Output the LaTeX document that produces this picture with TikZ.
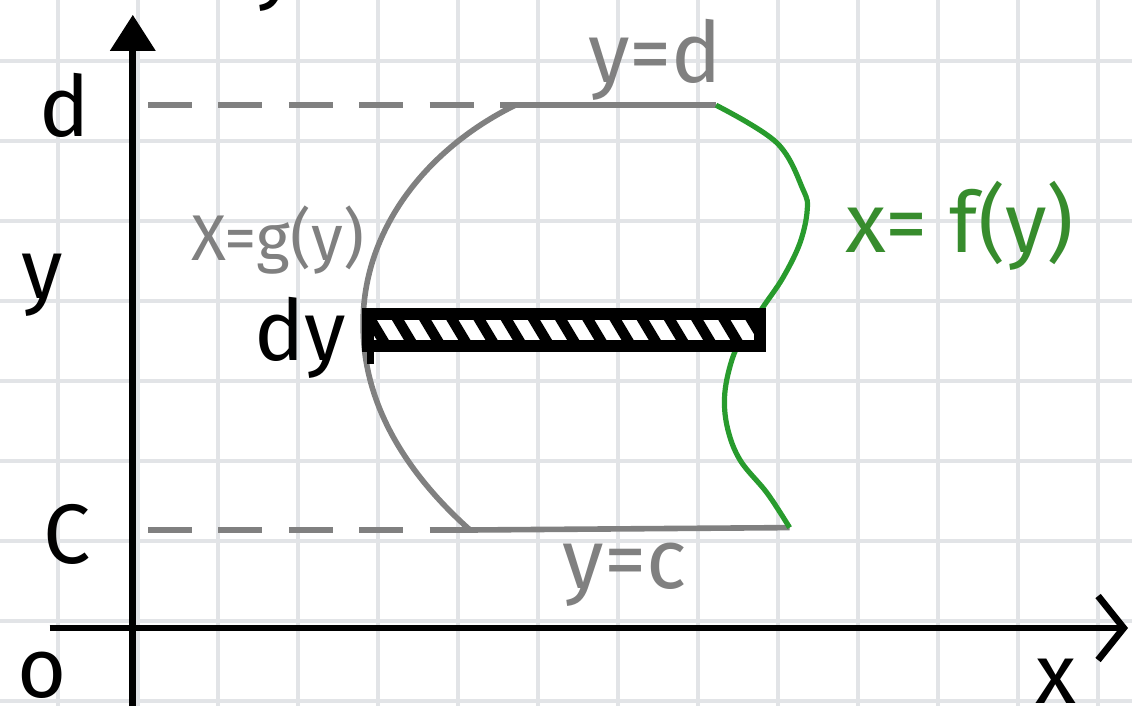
\documentclass[tikz,border=0pt]{standalone}
\usepackage{fontspec}
\setmainfont{Fira Sans}
\usetikzlibrary{arrows.meta,calc}
\definecolor{pencil}{RGB}{128,128,128}
\definecolor{marker}{RGB}{40,155,45}
\definecolor{markertext}{RGB}{55,140,45}
\definecolor{gridc}{RGB}{226,228,231}
\begin{document}
\begin{tikzpicture}[
  gridline/.style={gridc,line width=1.3pt},
  axis/.style={black,line width=0.085cm},
  bound/.style={pencil,line width=0.07cm},
  guide/.style={pencil,line width=0.07cm,dash pattern=on 0.55cm off 0.33cm},
  curve/.style={marker,line width=0.065cm},
  hatch/.style={black,line width=0.13cm},
  ink/.style={black,font=\fontsize{30}{30}\selectfont},
  pen/.style={pencil,font=\fontsize{30}{30}\selectfont},
  penfine/.style={pencil,font=\fontsize{23}{23}\selectfont},
  greenpen/.style={markertext,font=\fontsize{30}{30}\selectfont}]
\useasboundingbox (0,0) rectangle (14.15,8.825);
\foreach \gx in {0,...,13} \draw[gridline] (0.725+\gx,0) -- (0.725+\gx,8.825);
\foreach \gy in {0,...,8} \draw[gridline] (0,0.06+\gy) -- (14.15,0.06+\gy);
\coordinate (o) at (1.66,0.975);
\coordinate (ytip) at (1.66,8.64);
\coordinate (xstart) at (0.62,0.975);
\coordinate (xtip) at (14.1,0.975);
\coordinate (dax) at (1.85,7.51);
\coordinate (dleft) at (6.44,7.51);
\coordinate (dright) at (8.95,7.51);
\coordinate (cax) at (1.85,2.2);
\coordinate (cleft) at (5.875,2.2);
\coordinate (cright) at (9.87,2.23);
\draw[axis,-{Triangle[length=0.45cm,width=0.55cm]}] (1.66,0) -- (ytip);
\draw[axis,-{Straight Barb[length=0.32cm,width=0.8cm]}] (xstart) -- (xtip);
\draw[guide] (dax) -- (dleft);
\draw[bound] (dleft) -- (dright);
\draw[guide] (cax) -- (cleft);
\draw[bound] (cleft) -- (cright);
\draw[bound] (dleft) .. controls (5.3,6.95) and (4.5,5.9) .. (4.54,4.7)
  .. controls (4.56,3.65) and (5.2,2.8) .. (cleft);
\draw[curve] plot[smooth,tension=0.6] coordinates {(dright) (9.71,7.04) (10.04,6.45)
  (10.09,6.2) (10.0,5.79) (9.79,5.36) (9.54,4.99) (9.31,4.64) (9.16,4.36)
  (9.06,3.91) (9.09,3.49) (9.25,3.075) (9.59,2.66) (cright)};
\coordinate (bl) at (4.6,4.5);
\coordinate (tr) at (9.5,4.9);
\fill[white] (bl) rectangle (tr);
\begin{scope}
\clip (bl) rectangle (tr);
\foreach \s in {0,...,15} \draw[hatch] ($(bl)+(\s*0.34-0.1,0.55)$) -- ++(0.42,-0.7);
\end{scope}
\draw[black,line width=0.14cm] (bl) rectangle (tr);
\draw[axis] (4.63,4.95) -- (4.63,4.27);
\node[ink] (dlab) at (0.81,7.51) {d};
\node[ink] (ylab) at (0.53,5.26) {y};
\node[ink] (clab) at (0.84,2.14) {C};
\node[ink,inner sep=0] (olab) at (0.53,0.38) {o};
\node[ink,inner sep=0,anchor=north] (xlab) at (13.2,0.6) {x};
\node[ink,inner sep=0,anchor=south] (ytop) at (3.45,8.68) {y};
\node[ink] (dylab) at (3.75,4.6) {dy};
\node[pen] (ydlab) at (8.19,8.075) {y=d};
\node[pen] (yclab) at (7.81,1.64) {y=c};
\node[penfine] (glab) at (3.475,5.83) {X=g(y)};
\node[greenpen] (flab) at (12.0,6.0) {x= f(y)};
\end{tikzpicture}
\end{document}
